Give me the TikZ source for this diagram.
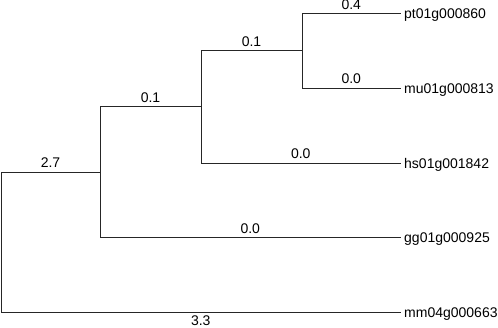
\documentclass[tikz,border=0pt]{standalone}
\usepackage{fontspec}
\setmainfont{Liberation Sans}
\begin{document}
\begin{tikzpicture}[x=1pt,y=-1pt,
  font=\fontsize{14}{16}\selectfont,
  branch/.style={draw=black!85,line width=1pt},
  leaf/.style={anchor=west,inner xsep=3.5pt,inner ysep=0pt,text height=9.9pt,text depth=0pt},
  lenabove/.style={anchor=base,inner sep=0pt,yshift=4.7pt},
  lenbelow/.style={anchor=base,inner sep=0pt,yshift=-12.8pt}]
\useasboundingbox (0,0) rectangle (498,328);
\coordinate (root) at (1,243);
\coordinate (n1) at (100,172.5);
\coordinate (n2) at (201,107);
\coordinate (n3) at (302,51);
\node[leaf] (pt) at (400.5,13.3) {pt01g000860};
\node[leaf] (mu) at (400.5,88.3) {mu01g000813};
\node[leaf] (hs) at (400.5,163.3) {hs01g001842};
\node[leaf] (gg) at (400.5,238) {gg01g000925};
\node[leaf] (mm) at (400.5,313) {mm04g000663};
\draw[branch] (root) |- (n1) node[pos=0.75,lenabove] {2.7};
\draw[branch] (root) |- (mm.west) node[pos=0.75,lenbelow] {3.3};
\draw[branch] (n1) |- (n2) node[pos=0.75,lenabove] {0.1};
\draw[branch] (n1) |- (gg.west) node[pos=0.75,lenabove] {0.0};
\draw[branch] (n2) |- (n3) node[pos=0.75,lenabove] {0.1};
\draw[branch] (n2) |- (hs.west) node[pos=0.75,lenabove] {0.0};
\draw[branch] (n3) |- (pt.west) node[pos=0.75,lenabove,yshift=-1.4pt] {0.4};
\draw[branch] (n3) |- (mu.west) node[pos=0.75,lenabove] {0.0};
\end{tikzpicture}
\end{document}
